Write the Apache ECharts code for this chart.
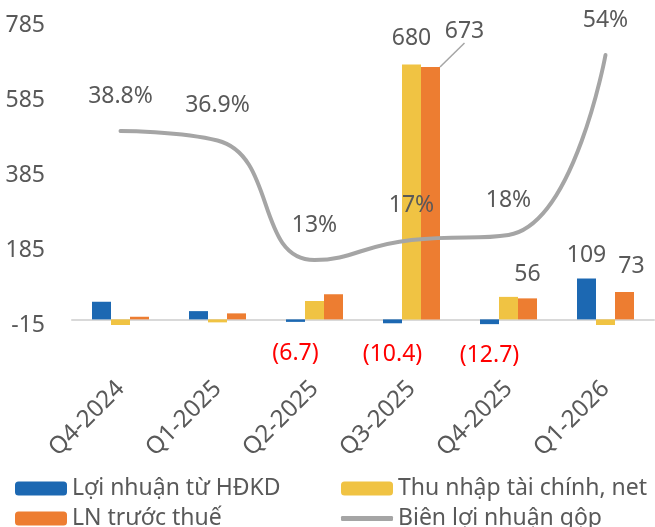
<!DOCTYPE html>
<html>
<head>
<meta charset="utf-8">
<script src="https://cdn.jsdelivr.net/npm/echarts@6/dist/echarts.min.js"></script>
<style>
html, body { margin: 0; padding: 0; background: #fff; }
#chart { width: 655px; height: 527px; }
</style>
</head>
<body>
<div id="chart"></div>
<script>
// du lieu doc tu hinh
var categories = ['Q4-2024', 'Q1-2025', 'Q2-2025', 'Q3-2025', 'Q4-2025', 'Q1-2026'];
var loiNhuanHDKD = [47, 22, -6.7, -10.4, -12.7, 109];
var thuNhapTaiChinh = [-15, -8, 49, 680, 60, -22];
var lnTruocThue = [7, 16, 67, 673, 56, 73];
var bienLoiNhuanGop = [38.8, 36.9, 13, 17, 18, 54]; // %
var yTicks = [-15, 185, 385, 585, 785];

// cot nao co nhan
var showBlue = [false, false, true, true, true, true];
var showYellow = [false, false, false, true, false, false];
var showOrange = [false, false, false, true, true, true];

var font = 'Noto Sans';
var textColor = '#595959';

function fmtNum(v) {
    return v < 0 ? '(' + Math.abs(v) + ')' : String(v);
}

function barData(values, flags) {
    return values.map(function (v, i) {
        var item = { value: v, label: { show: flags[i] } };
        if (v < 0) {
            item.label.position = 'bottom';
            item.label.distance = 20;
            item.label.color = '#FF0000';
        }
        return item;
    });
}

function legendBox(left, top, name, isLine) {
    var lg = {
        left: left, top: top, padding: 0, itemWidth: 52, itemHeight: 14, itemGap: 0,
        textStyle: { fontSize: 23, color: textColor, fontFamily: font },
        data: [name]
    };
    if (isLine) {
        lg.itemHeight = 5;
        lg.data = [{ name: name, icon: 'roundRect' }];
    }
    return lg;
}

var chart = echarts.init(document.getElementById('chart'));

var orangeData = barData(lnTruocThue, showOrange);
orangeData[3].labelLine = { show: true };

var option = {
    animation: false,
    textStyle: { fontFamily: font },
    grid: { left: 72, right: 1, top: 25, bottom: 202 },
    legend: [
        legendBox(15, 477, 'Lợi nhuận từ HĐKD'),
        legendBox(341, 477, 'Thu nhập tài chính, net'),
        legendBox(15, 507, 'LN trước thuế'),
        legendBox(341, 507, 'Biên lợi nhuận gộp', true)
    ],
    xAxis: {
        type: 'category',
        data: categories,
        axisTick: { show: false },
        axisLine: { onZero: true, lineStyle: { color: '#D9D9D9', width: 2 } },
        axisLabel: { rotate: 45, margin: 60, fontSize: 24, color: textColor, fontFamily: font }
    },
    yAxis: [{
        type: 'value',
        min: yTicks[0],
        max: yTicks[yTicks.length - 1],
        interval: 200,
        splitLine: { show: false },
        axisLine: { show: false },
        axisTick: { show: false },
        axisLabel: { margin: 27, fontSize: 23, color: textColor, fontFamily: font }
    }, {
        type: 'value',
        min: 0,
        max: 60,
        show: false,
        splitLine: { show: false }
    }],
    series: [{
        name: 'Lợi nhuận từ HĐKD',
        type: 'bar',
        barWidth: 19,
        barGap: '0%',
        itemStyle: { color: '#1C68B2' },
        label: { position: 'top', distance: 12, fontSize: 23, color: textColor, formatter: function (p) { return fmtNum(p.value); } },
        data: barData(loiNhuanHDKD, showBlue)
    }, {
        name: 'Thu nhập tài chính, net',
        type: 'bar',
        barWidth: 19,
        barGap: '0%',
        itemStyle: { color: '#F0C343' },
        label: { position: 'top', distance: 14, fontSize: 23, color: textColor, formatter: function (p) { return fmtNum(p.value); } },
        data: barData(thuNhapTaiChinh, showYellow)
    }, {
        name: 'LN trước thuế',
        type: 'bar',
        barWidth: 19,
        barGap: '0%',
        itemStyle: { color: '#ED7D31' },
        label: { position: 'top', distance: 12, fontSize: 23, color: textColor, formatter: function (p) { return fmtNum(p.value); } },
        labelLine: { show: false, lineStyle: { color: '#A5A5A5', width: 1.5 } },
        labelLayout: function (p) {
            if (p.dataIndex === 3) return { dx: 34, dy: -12 };
            if (p.dataIndex === 5) return { dx: 7, dy: -2 };
            return {};
        },
        data: orangeData
    }, {
        name: 'Biên lợi nhuận gộp',
        type: 'line',
        yAxisIndex: 1,
        smooth: 0.5,
        symbol: 'circle',
        symbolSize: 3,
        lineStyle: { color: '#A5A5A5', width: 4, cap: 'round' },
        itemStyle: { color: '#A5A5A5' },
        label: {
            show: true, position: 'top', distance: 22, fontSize: 23, color: textColor,
            formatter: function (p) { return p.value + '%'; }
        },
        data: bienLoiNhuanGop
    }]
};

chart.setOption(option);
</script>
</body>
</html>
